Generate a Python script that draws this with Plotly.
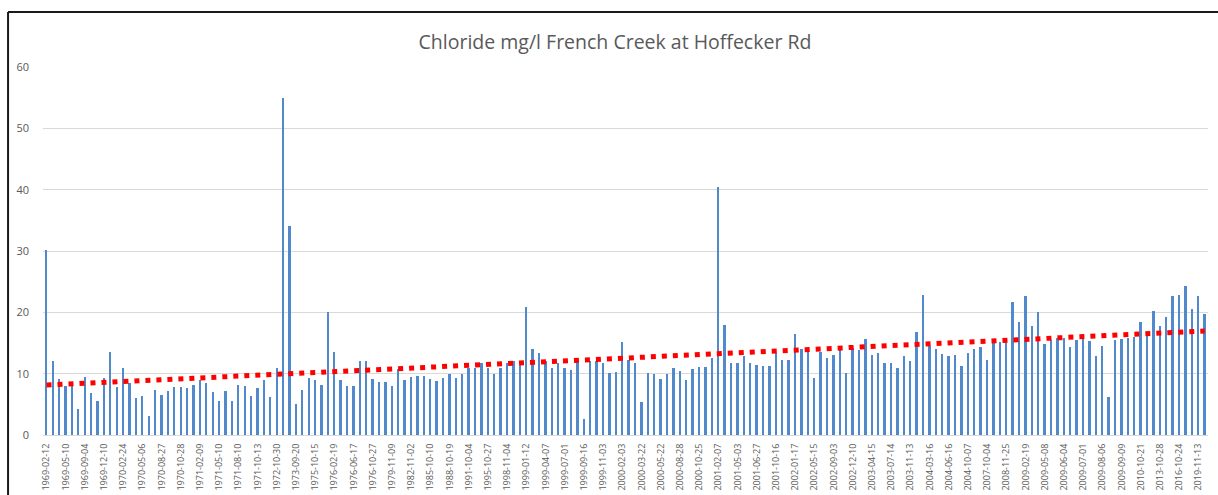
import numpy as np
import plotly.graph_objects as go

title = "Chloride mg/l French Creek at Hoffecker Rd"

# tick labels shown every 3rd sample (as on the reference axis)
tick_labels = [
    "1969-02-12", "1969-05-10", "1969-09-04", "1969-12-10", "1970-02-24", "1970-05-06",
    "1970-08-27", "1970-10-28", "1971-02-09", "1971-05-10", "1971-08-10", "1971-10-13",
    "1972-10-30", "1973-09-20", "1975-10-15", "1976-02-19", "1976-06-17", "1976-10-27",
    "1979-11-09", "1982-11-02", "1985-10-10", "1988-10-19", "1991-10-04", "1995-10-27",
    "1998-11-04", "1999-01-12", "1999-04-07", "1999-07-01", "1999-09-16", "1999-11-03",
    "2000-02-03", "2000-03-22", "2000-05-22", "2000-08-28", "2000-10-25", "2001-02-07",
    "2001-05-03", "2001-06-27", "2001-10-16", "2002-01-17", "2002-05-15", "2002-09-03",
    "2002-12-10", "2003-04-15", "2003-07-14", "2003-11-13", "2004-03-16", "2004-06-16",
    "2004-10-07", "2007-10-04", "2008-11-25", "2009-02-19", "2009-05-08", "2009-06-04",
    "2009-07-01", "2009-08-06", "2009-09-09", "2010-10-21", "2013-10-28", "2016-10-24",
    "2019-11-13",
]
label_step = 3

# chloride values (mg/l), one per sample, in order
chloride = [
    30.2, 12.0, 9.1, 8.0, 8.0, 4.2, 9.5, 6.8, 5.6, 9.3,
    13.5, 7.8, 11.0, 8.4, 6.1, 6.4, 3.1, 7.3, 6.5, 7.2,
    7.9, 7.9, 7.6, 8.2, 9.0, 8.4, 7.0, 5.5, 7.2, 5.5,
    8.2, 8.0, 6.4, 7.6, 8.9, 6.2, 11.0, 55.0, 34.0, 5.1,
    7.3, 9.3, 8.9, 8.2, 20.1, 13.6, 8.9, 8.0, 8.0, 12.0,
    12.0, 9.1, 8.7, 8.7, 8.0, 10.7, 8.9, 9.4, 9.7, 9.6,
    9.2, 8.8, 9.3, 9.9, 9.3, 9.9, 11.0, 11.0, 11.8, 11.0,
    9.9, 10.9, 11.7, 12.0, 11.4, 20.9, 14.1, 13.3, 12.1, 10.9,
    11.8, 11.0, 10.6, 12.0, 2.6, 12.0, 12.1, 11.8, 10.1, 10.2,
    15.2, 12.3, 11.8, 5.3, 10.1, 9.9, 9.2, 9.9, 11.0, 10.5,
    9.0, 10.7, 11.1, 11.1, 12.6, 40.5, 17.9, 11.8, 11.8, 12.9,
    11.7, 11.4, 11.3, 11.3, 13.3, 12.3, 12.3, 16.5, 14.1, 13.9,
    9.3, 13.6, 12.6, 13.0, 13.9, 10.1, 14.2, 13.8, 15.7, 13.0,
    13.3, 11.8, 11.8, 11.0, 12.8, 12.0, 16.8, 22.8, 14.5, 14.1,
    13.2, 12.8, 13.0, 11.3, 13.4, 14.0, 14.4, 12.3, 15.2, 15.1,
    15.4, 21.7, 18.5, 22.7, 17.7, 20.1, 14.8, 15.5, 15.8, 15.8,
    14.4, 15.5, 15.6, 15.3, 12.9, 14.5, 6.2, 15.5, 15.6, 15.8,
    16.0, 18.5, 16.3, 20.2, 17.8, 19.3, 22.7, 22.8, 24.3, 20.5,
    22.7, 19.7,
]

idx = np.arange(len(chloride))
slope, intercept = np.polyfit(idx, np.array(chloride), 1)
trend = slope * idx + intercept

fig = go.Figure()
fig.add_trace(go.Bar(
    x=idx, y=chloride, width=0.28,
    marker=dict(color="#5089cc", line=dict(width=0)),
    showlegend=False,
))
fig.add_trace(go.Scatter(
    x=idx, y=trend, mode="lines",
    line=dict(color="#ff0000", width=5, dash="5px,6px"),
    showlegend=False,
))

border = dict(color="#1a1a1a", width=2)
fig.update_layout(
    width=1218, height=495,
    margin=dict(l=43, r=10, t=67, b=60),
    paper_bgcolor="white", plot_bgcolor="white",
    bargap=0,
    title=dict(text=title, x=(615 - 43) / 1165, xref="paper", xanchor="center",
               y=1 - 42 / 495, yanchor="middle",
               font=dict(family="Open Sans", size=19.5, color="#595959")),
    font=dict(family="Open Sans", color="#595959"),
    shapes=[
        dict(type="line", xref="paper", yref="paper",
             x0=-0.03, x1=1.05, y0=1.1495, y1=1.1495, line=border, layer="above"),
        dict(type="line", xref="paper", yref="paper",
             x0=-0.03, x1=-0.03, y0=-0.3, y1=1.1495, line=border, layer="above"),
    ],
)
fig.update_xaxes(
    range=[-0.55, len(chloride) - 0.5],
    tickmode="array",
    tickvals=idx[::label_step],
    ticktext=tick_labels,
    tickangle=-90,
    tickfont=dict(size=9, color="#595959", family="Open Sans"),
    showgrid=False, zeroline=False,
    showline=True, linecolor="#d9d9d9", linewidth=1,
    ticklabelstandoff=4,
    automargin=False,
)
fig.update_yaxes(
    range=[0, 60], dtick=10,
    showgrid=True, gridcolor="#d9d9d9", gridwidth=1,
    zeroline=False, showline=False,
    tickfont=dict(size=11, color="#595959", family="Open Sans"),
    ticklabelstandoff=13,
    automargin=False,
)

fig.write_html("out.html", config={"displayModeBar": False},
               post_script="document.body.style.margin='0px';")
